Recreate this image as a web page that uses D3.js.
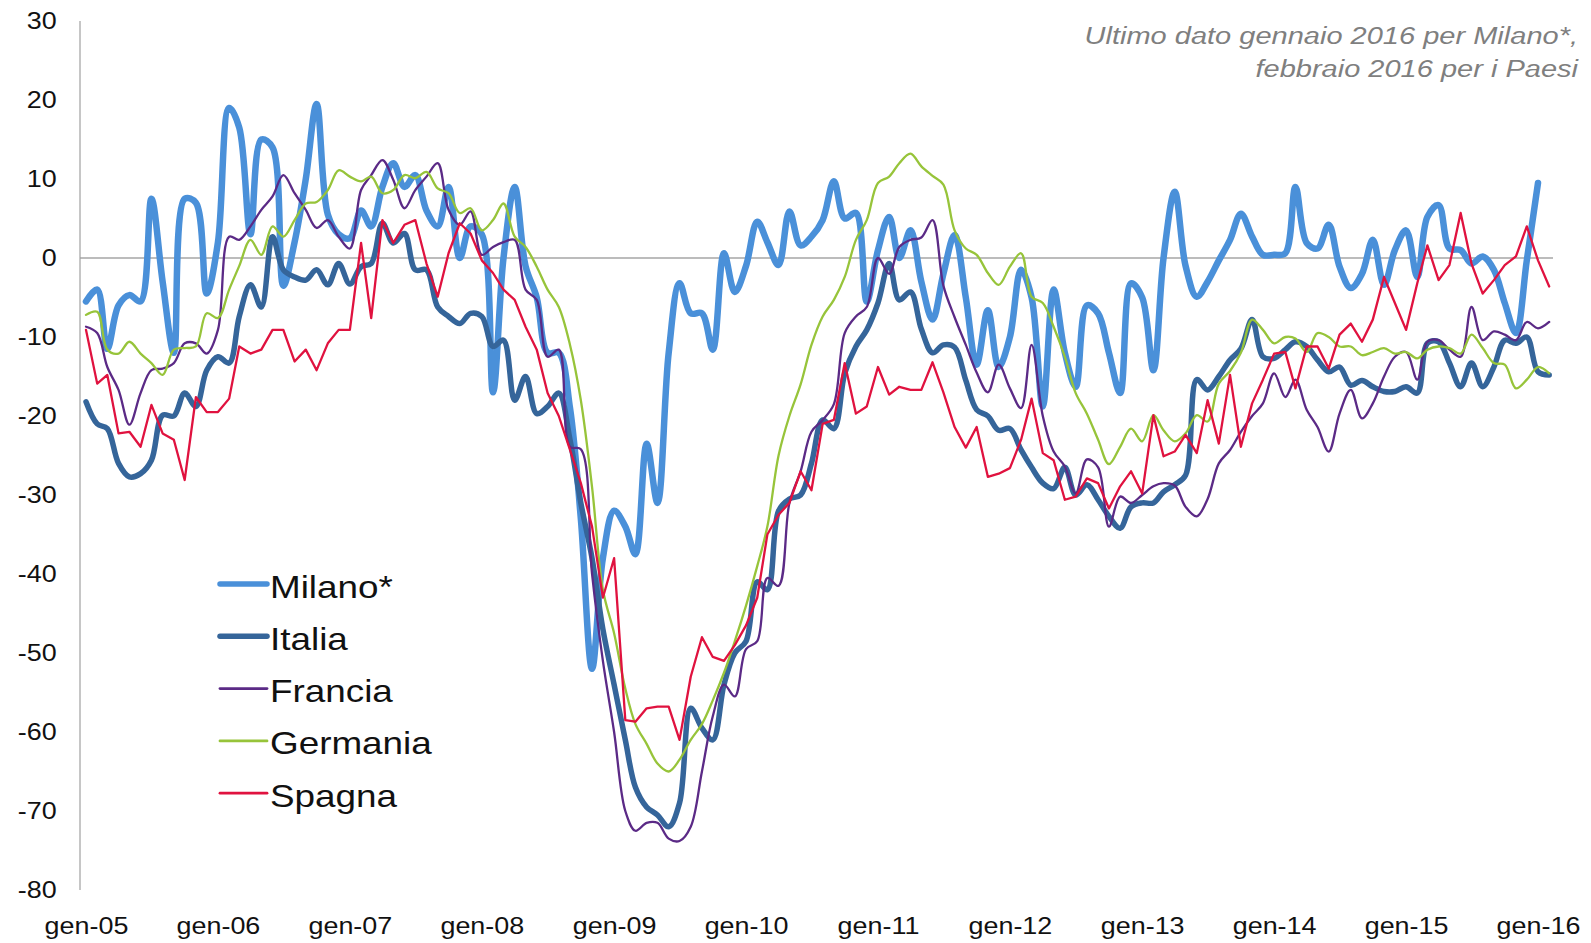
<!DOCTYPE html>
<html>
<head>
<meta charset="utf-8">
<script src="https://cdn.jsdelivr.net/npm/d3@7"></script>
<style>
  html, body { margin: 0; padding: 0; background: #ffffff; }
  svg { display: block; }
  text { font-family: "Liberation Sans", Arial, Helvetica, sans-serif; }
</style>
</head>
<body>
<svg id="chart" width="1591" height="943"></svg>
<script>
// ---- DATA (monthly, starting gen-2005) ----
const milano = [
  -5.5, -4, -11.5, -6, -4.7, -5.5, 7.5, -3, -12, 7.5, 7, -4.5,
  2, 19, 16.5, 3, 15, 14, -3.5, 2, 10, 19.5, 5.5, 3,
  2.5, 6, 4, 9, 12, 9, 10.5, 6, 4, 9, 0, 4,
  3, -17, 0, 9, -1, -5, -12, -12, -19, -33, -52, -38,
  -32, -34, -37.5, -23.5, -31, -12, -3.2, -7, -7, -11.6, 0.6, -4.3,
  -1, 4.6, 2, -0.9, 5.9, 1.6, 2.7, 4.8, 9.7, 5, 5.7, -5.5,
  1, 5.2, 0, 3.5, -3, -7.8, -2, 2.9, -5, -13.5, -6.6, -13.8,
  -10, -1.5, -5, -18.8, -4, -12, -16.3, -6, -7, -12, -17.1, -3.2,
  -5, -14.2, 0, 8.4, -1, -4.9, -3, -0.3, 2.3, 5.6, 2.7, 0.4,
  0.4, 0.6, 9, 1.9, 1.2, 4.2, -1.1, -3.8, -2, 2.3, -3.4, 1,
  3.5, -2.4, 5.2, 6.7, 1.2, 1, -0.7, 0.2, -1.5, -5.7, -9.5, -0.3,
  9.5
];
const italia = [
  -18.2, -21, -21.6, -26, -27.7, -27.3, -25.6, -19.9, -20, -17.1, -18.8, -14.2,
  -12.5, -13.3, -7.4, -3.4, -6.2, 2.7, -1.5, -2.4, -2.8, -1.5, -3.4, -0.7,
  -3.3, -1.1, -0.7, 4.4, 1.9, 3.1, -1.5, -1.5, -6.2, -7.4, -8.3, -7,
  -7.4, -11.2, -10.4, -18, -15, -19.7, -18.8, -17.1, -23, -31, -38, -47,
  -54, -61, -67, -69.5, -70.5, -72, -69, -57, -59.5, -61, -54, -50,
  -48.5, -41, -42, -32, -30.5, -30, -26, -20.5, -21.6, -14.6, -11.2, -9.1,
  -5.7, -0.7, -5.3, -4.3, -9, -12, -11, -11.3, -15.5, -19.2, -20, -21.8,
  -21.6, -24.3, -26.5, -28.5, -29.2, -26.5, -30, -28.7, -30.6, -32.7, -34.2, -31.5,
  -31, -31, -29.6, -28.7, -27.5, -15.4, -16.7, -15, -12.9, -11.5, -7.8, -12.5,
  -12.7, -11.6, -10.6, -11.2, -12.9, -14.4, -13.8, -16.1, -15.5, -16.3, -16.9, -16.9,
  -16.3, -17.1, -10.8, -10.6, -13.3, -16.3, -13.3, -16.3, -13.8, -10.4, -10.8, -10,
  -14.4, -14.8
];
const francia = [
  -8.7, -9.5, -13.8, -16.7, -21.1, -17.1, -14.2, -14, -13.3, -10.8, -10.8, -12.1,
  -9.1, 2.7, 2.3, 4, 6.1, 7.8, 10.5, 8.2, 6.1, 3.8, 4.8, 2.7,
  1.2, 8.6, 10.5, 12.4, 9.9, 6.3, 8.6, 10.3, 12, 6.1, 4.2, 5.9,
  0.4, 1.4, 2, 2.3, -4, -5.3, -12.5, -11.6, -23.9, -24.2, -40, -51,
  -60, -70, -72.5, -71.5, -71.5, -73.5, -73.8, -72, -65, -58, -54, -55.5,
  -49.5, -48.5, -40.5, -41.5, -31, -27, -22, -20.5, -18.5, -9.5, -7.4, -6.2,
  0, -2, 1.4, 2.3, 2.6, 4.8, -3.5, -7.5, -11, -14.5, -17, -13.5,
  -16.5, -19, -11, -20, -24.5, -26.4, -29.8, -25.5, -26.5, -34, -30.2, -31,
  -30, -28.9, -28.5, -28.8, -31.5, -32.7, -30.5, -26, -24.3, -22, -20, -18.4,
  -14.6, -17.6, -15.4, -19.2, -21.4, -24.5, -19.7, -16.7, -20.3, -18.4, -15, -12.5,
  -11.9, -15.4, -10.6, -10.4, -11.6, -12.5, -6.2, -10.4, -9.3, -9.7, -10.4, -8.1,
  -8.9, -8.1
];
const germania = [
  -7.2, -6.8, -11.6, -12.1, -10.6, -12.1, -13.3, -14.8, -11.6, -11.4, -11.2, -7,
  -7.6, -4, -1, 2.3, 0.4, 4, 2.7, 4.8, 6.9, 7.1, 8.6, 11.1,
  10.3, 9.7, 10.3, 8.2, 8.6, 10.5, 10.1, 10.9, 8.8, 8.2, 5.7, 6.3,
  3.5, 4.8, 6.9, 2.7, 1.4, -1.1, -4, -6.2, -11, -18, -29, -42,
  -47.5, -54.5, -59, -61.5, -64, -65, -63.5, -61, -59, -56, -52.5, -48.5,
  -44, -39, -34, -25, -20, -16, -11, -7.4, -5.3, -2.4, 2.3, 4.8,
  9.5, 10.3, 12, 13.2, 11.6, 10.4, 9.3, 3.5, 1.2, 0.4, -1.9, -3.4,
  -1.1, 0.6, -4.9, -5.7, -8.7, -12.5, -17.1, -19.7, -23, -26.1, -23.9, -21.6,
  -23.2, -19.9, -21.8, -23.2, -22.2, -19.9, -20.7, -15.9, -14.3, -12, -7.8, -9.1,
  -10.8, -10, -10.2, -11.9, -9.5, -10, -11.2, -11.2, -12.3, -11.9, -11.4, -12.1,
  -11.9, -12.7, -11.6, -11.2, -11.4, -12.1, -9.7, -11.4, -13.3, -13.5, -16.5, -15.4,
  -13.8, -14.6
];
const spagna = [
  -9.1, -15.9, -14.8, -22.2, -22, -23.9, -18.6, -22.2, -23, -28.1, -17.6, -19.5,
  -19.5, -17.8, -11.2, -12.1, -11.6, -9.1, -9.1, -13.1, -11.6, -14.2, -10.8, -9.1,
  -9.1, 1.9, -7.6, 4.8, 1.9, 4.2, 4.8, -0.7, -4.9, 0.6, 4.4, 3.1,
  -0.3, -1.9, -4, -5.3, -8.7, -11.6, -17.1, -20, -24.3, -28.5, -34, -43,
  -38, -58.5, -58.7, -57, -56.8, -56.8, -61, -53, -48, -50.5, -51, -49,
  -46.5, -43, -35, -32.5, -31, -27, -29.4, -21, -20.5, -13.3, -19.7, -18.8,
  -13.8, -17.3, -16.3, -16.7, -16.7, -13.2, -17, -21.4, -24, -21.4, -27.7, -27.3,
  -26.6, -23, -17.8, -24.7, -25.6, -30.6, -30.2, -27.9, -28.5, -31.7, -28.9, -27,
  -29.8, -19.9, -25.1, -24.5, -22.4, -24.7, -18, -23.5, -14.8, -23.9, -18.4, -15.4,
  -12.1, -11.9, -16.5, -11.2, -11.2, -14, -9.7, -8.3, -10.6, -7.8, -2.4, -5.7,
  -9.1, -3.2, 1.6, -2.8, -0.9, 5.7, -0.7, -4.5, -2.8, -0.9, 0.2, 4,
  -0.3, -3.6
];
const seriesNames = ["Milano*", "Italia", "Francia", "Germania", "Spagna"];
const xTickLabels = ["gen-05","gen-06","gen-07","gen-08","gen-09","gen-10","gen-11","gen-12","gen-13","gen-14","gen-15","gen-16"];
const yTicks = [30, 20, 10, 0, -10, -20, -30, -40, -50, -60, -70, -80];
const noteLines = ["Ultimo dato gennaio 2016 per Milano*,", "febbraio 2016 per i Paesi"];

// ---- STYLES ----
const styles = {
  "Milano*":  { color: "#4a90d9", width: 6.5, smooth: true },
  "Italia":   { color: "#35659a", width: 5.5, smooth: true },
  "Francia":  { color: "#5b2a86", width: 2.3, smooth: true },
  "Germania": { color: "#97c43a", width: 2.3, smooth: true },
  "Spagna":   { color: "#e0123f", width: 2.3, smooth: false }
};
const values = [milano, italia, francia, germania, spagna];
const STRETCH = 1.17;

const svg = d3.select("#chart");
svg.append("rect").attr("width", 1591).attr("height", 943).attr("fill", "#fff");

const monthDate = i => new Date(Date.UTC(2005, i, 1));
const x = d3.scaleUtc()
  .domain([monthDate(0), monthDate(132)])
  .range([86, 1538]);
const y = d3.scaleLinear().domain([-80, 30]).range([890, 21]);

// zero line
svg.append("line")
  .attr("x1", 80).attr("x2", 1553)
  .attr("y1", y(0)).attr("y2", y(0))
  .attr("stroke", "#a6a6a6").attr("stroke-width", 1.3);

// y axis line
svg.append("line")
  .attr("x1", 80).attr("x2", 80)
  .attr("y1", y(30)).attr("y2", y(-80))
  .attr("stroke", "#a0a0a0").attr("stroke-width", 1.2);

// y axis
const yAxis = svg.append("g")
  .attr("transform", "translate(80,0)")
  .call(d3.axisLeft(y).tickValues(yTicks).tickSize(0).tickPadding(20).tickFormat(d => String(d)));
yAxis.select(".domain").remove();
yAxis.selectAll("text")
  .attr("font-size", 23).attr("fill", "#111")
  .attr("font-family", "Liberation Sans, Arial, sans-serif")
  .attr("transform", `scale(${STRETCH},1)`);

// x axis
const xTickDates = xTickLabels.map((_, i) => monthDate(i * 12));
const xAxis = svg.append("g")
  .attr("transform", "translate(0,890)")
  .call(d3.axisBottom(x).tickValues(xTickDates).tickSize(0).tickPadding(28)
    .tickFormat((d, i) => xTickLabels[i]));
xAxis.select(".domain").remove();
xAxis.selectAll("text")
  .attr("font-size", 23).attr("fill", "#111")
  .attr("font-family", "Liberation Sans, Arial, sans-serif")
  .attr("transform", `scale(${STRETCH},1)`);

// lines
const plot = svg.append("g");
seriesNames.forEach((name, k) => {
  const st = styles[name];
  const line = d3.line()
    .x((d, i) => x(monthDate(i)))
    .y(d => y(d))
    .curve(st.smooth ? d3.curveCatmullRom.alpha(0.5) : d3.curveLinear);
  plot.append("path")
    .datum(values[k])
    .attr("d", line)
    .attr("fill", "none")
    .attr("stroke", st.color)
    .attr("stroke-width", st.width)
    .attr("stroke-linejoin", "round")
    .attr("stroke-linecap", "round");
});

// legend
const legend = svg.append("g");
seriesNames.forEach((name, k) => {
  const st = styles[name];
  const ly = 584 + k * 52.3;
  legend.append("line")
    .attr("x1", 220).attr("x2", 267)
    .attr("y1", ly).attr("y2", ly)
    .attr("stroke", st.color)
    .attr("stroke-width", st.width > 4 ? 5.5 : 2.8)
    .attr("stroke-linecap", "round");
  legend.append("text")
    .attr("transform", `translate(270,${ly + 13.5}) scale(${STRETCH},1)`)
    .attr("font-size", 31.5)
    .attr("fill", "#111")
    .text(name);
});

// note
noteLines.forEach((t, i) => {
  svg.append("text")
    .attr("transform", `translate(1578,${44 + i * 33}) scale(${STRETCH},1)`)
    .attr("text-anchor", "end")
    .attr("font-size", 24.8)
    .attr("font-style", "italic")
    .attr("fill", "#7f7f7f")
    .text(t);
});
</script>
</body>
</html>
